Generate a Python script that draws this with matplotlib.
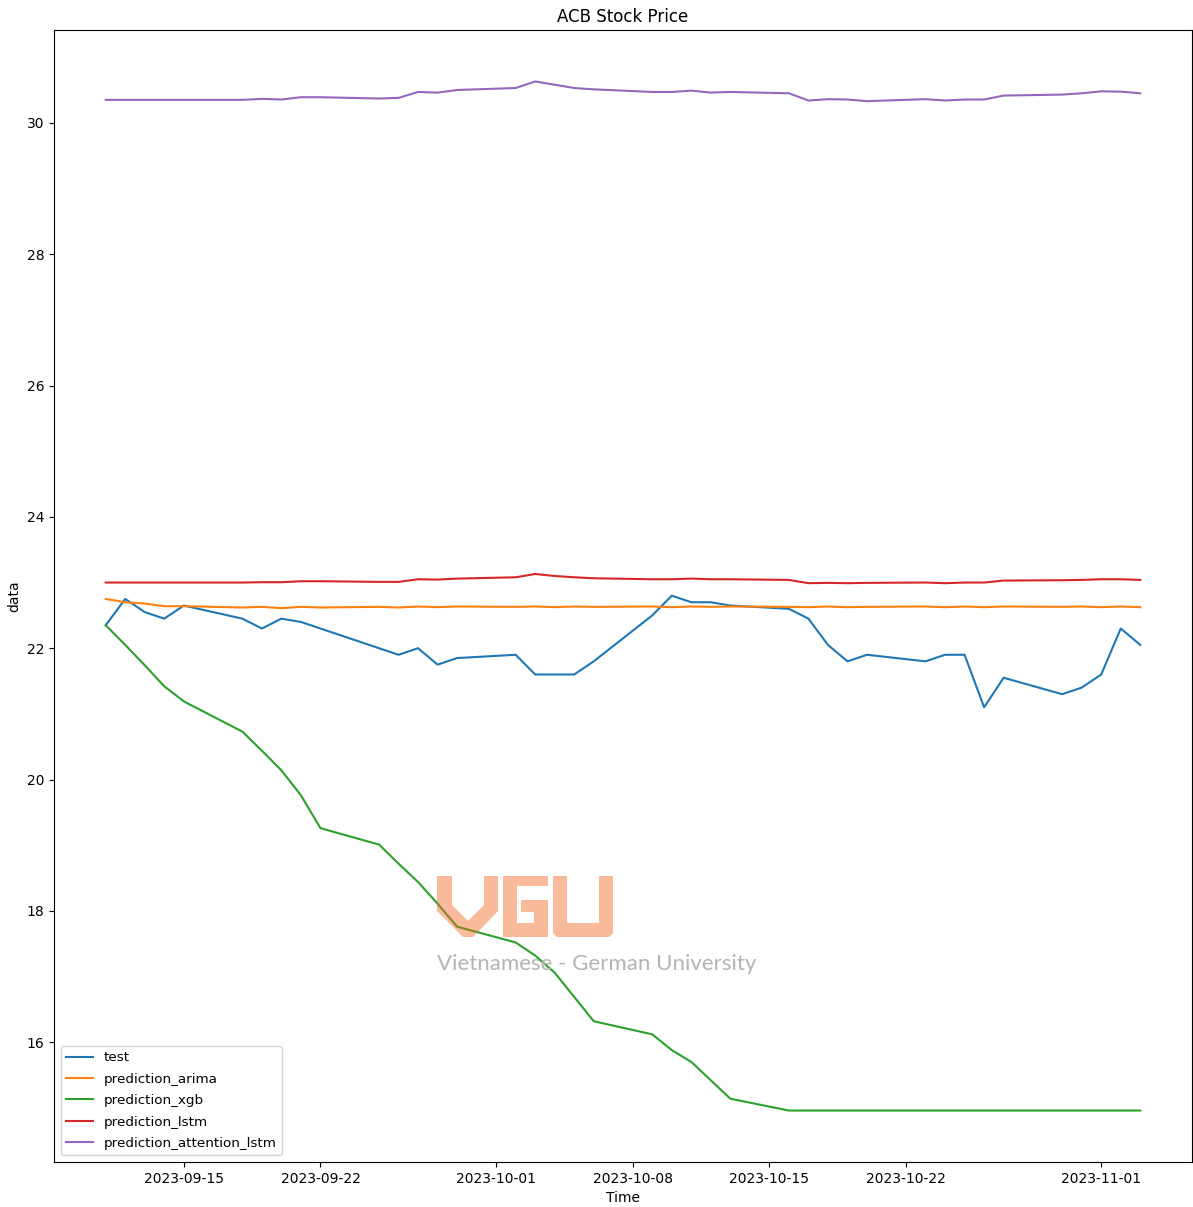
import numpy as np
import pandas as pd
import matplotlib
matplotlib.use("Agg")
import matplotlib.pyplot as plt
from matplotlib.patches import Polygon

# ---------------- data ----------------
dates = pd.to_datetime([
    "2023-09-11", "2023-09-12", "2023-09-13", "2023-09-14", "2023-09-15",
    "2023-09-18", "2023-09-19", "2023-09-20", "2023-09-21", "2023-09-22",
    "2023-09-25", "2023-09-26", "2023-09-27", "2023-09-28", "2023-09-29",
    "2023-10-02", "2023-10-03", "2023-10-04", "2023-10-05", "2023-10-06",
    "2023-10-09", "2023-10-10", "2023-10-11", "2023-10-12", "2023-10-13",
    "2023-10-16", "2023-10-17", "2023-10-18", "2023-10-19", "2023-10-20",
    "2023-10-23", "2023-10-24", "2023-10-25", "2023-10-26", "2023-10-27",
    "2023-10-30", "2023-10-31", "2023-11-01", "2023-11-02", "2023-11-03",
])

test = [22.35, 22.75, 22.55, 22.45, 22.65,
        22.45, 22.30, 22.45, 22.40, 22.30,
        22.00, 21.90, 22.00, 21.75, 21.85,
        21.90, 21.60, 21.60, 21.60, 21.80,
        22.50, 22.80, 22.70, 22.70, 22.65,
        22.60, 22.45, 22.05, 21.80, 21.90,
        21.80, 21.90, 21.90, 21.10, 21.55,
        21.30, 21.40, 21.60, 22.30, 22.05]

prediction_arima = [22.75, 22.70, 22.68, 22.64, 22.64,
                    22.62, 22.63, 22.61, 22.63, 22.62,
                    22.63, 22.62, 22.635, 22.625, 22.635,
                    22.63, 22.635, 22.625, 22.635, 22.63,
                    22.635, 22.625, 22.635, 22.63, 22.635,
                    22.63, 22.625, 22.635, 22.625, 22.63,
                    22.635, 22.625, 22.635, 22.625, 22.635,
                    22.63, 22.635, 22.625, 22.635, 22.625]

prediction_xgb = [22.35, 22.05, 21.74, 21.42, 21.19,
                  20.73, 20.44, 20.14, 19.76, 19.26,
                  19.01, 18.72, 18.44, 18.11, 17.76,
                  17.52, 17.32, 17.06, 16.69, 16.32,
                  16.12, 15.88, 15.70, 15.42, 15.14,
                  14.96, 14.96, 14.96, 14.96, 14.96,
                  14.96, 14.96, 14.96, 14.96, 14.96,
                  14.96, 14.96, 14.96, 14.96, 14.96]

prediction_lstm = [23.00, 23.00, 23.00, 23.00, 23.00,
                   23.00, 23.005, 23.005, 23.02, 23.02,
                   23.01, 23.01, 23.05, 23.045, 23.06,
                   23.08, 23.13, 23.10, 23.08, 23.065,
                   23.05, 23.05, 23.06, 23.05, 23.05,
                   23.04, 22.99, 22.995, 22.99, 22.995,
                   23.00, 22.99, 23.00, 23.00, 23.03,
                   23.035, 23.04, 23.05, 23.05, 23.04]

prediction_attention_lstm = [30.35, 30.35, 30.35, 30.35, 30.35,
                             30.35, 30.365, 30.355, 30.39, 30.39,
                             30.37, 30.38, 30.47, 30.46, 30.50,
                             30.53, 30.63, 30.58, 30.53, 30.51,
                             30.47, 30.47, 30.49, 30.46, 30.47,
                             30.45, 30.34, 30.36, 30.355, 30.33,
                             30.36, 30.34, 30.355, 30.355, 30.415,
                             30.43, 30.45, 30.48, 30.475, 30.45]

series = {
    "test": test,
    "prediction_arima": prediction_arima,
    "prediction_xgb": prediction_xgb,
    "prediction_lstm": prediction_lstm,
    "prediction_attention_lstm": prediction_attention_lstm,
}

# ---------------- plot ----------------
W, H = 1193, 1207
fig = plt.figure(figsize=(W / 100, H / 100), dpi=100)
ax = fig.add_axes([54 / W, 1 - 1162 / H, 1138 / W, 1132 / H])

for name, values in series.items():
    ax.plot(dates, values, label=name)

ax.set_title("ACB Stock Price")
ax.set_xlabel("Time")
ax.set_ylabel("data")
ax.legend(loc="lower left", fontsize=9.7, labelspacing=0.62)

# VGU watermark, drawn in pixel coordinates on a transparent overlay
wm = fig.add_axes([0, 0, 1, 1], zorder=5)
wm.set_xlim(0, W)
wm.set_ylim(H, 0)
wm.axis("off")
wm.patch.set_alpha(0)

logo_color = "#f26522"
logo_alpha = 0.45
letter_v = [(437, 876), (452, 876), (452, 905), (468, 921), (484, 905),
            (484, 876), (498, 876), (498, 911), (473, 937), (463, 937),
            (437, 911)]
letter_g = [(503, 876), (548, 876), (548, 886), (517, 886), (517, 923),
            (534, 923), (534, 912), (521, 912), (521, 900), (548, 900),
            (548, 937), (503, 937)]
letter_u = [(553, 876), (567, 876), (567, 923), (599, 923), (599, 876),
            (613, 876), (613, 933), (609, 937), (557, 937), (553, 933)]
for pts in (letter_v, letter_g, letter_u):
    wm.add_patch(Polygon(pts, closed=True, facecolor=logo_color,
                         edgecolor="none", alpha=logo_alpha))

wm.text(437, 970, "Vietnamese - German University", fontsize=16,
        family="Lato", color="#b3b3b3", ha="left", va="baseline")

fig.savefig("out.png", dpi=100)
